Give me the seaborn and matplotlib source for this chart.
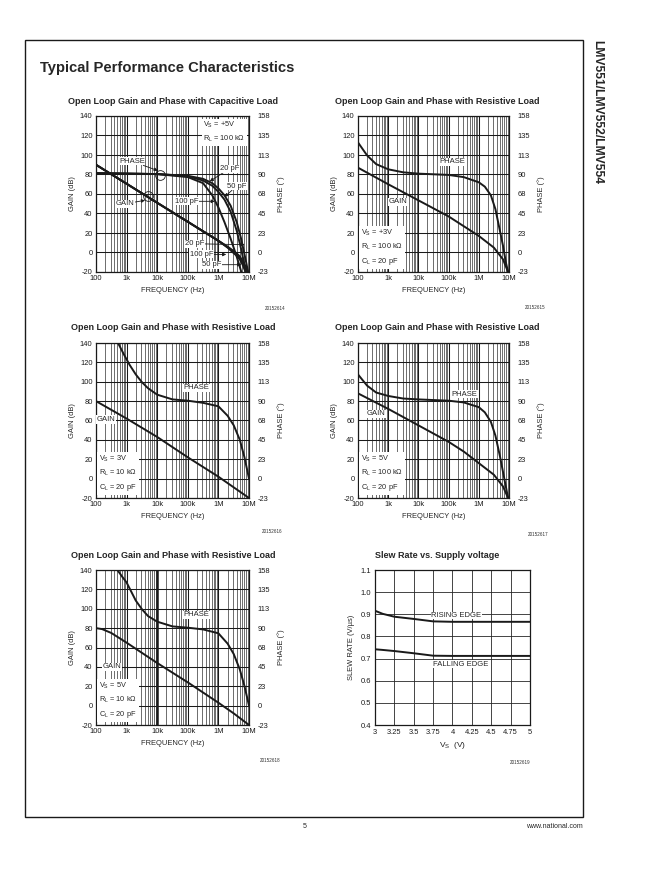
import matplotlib
matplotlib.use('Agg')
import matplotlib.pyplot as plt
from matplotlib.ticker import LogLocator, NullFormatter
import seaborn as sns

# ---- data ----
# Open loop gain / phase, capacitive load (VS=+5V, RL=100k)
cap_gain_f = [100, 1e3, 1e4, 1e5, 1e6, 2e6, 3e6, 4e6, 5e6, 6.3e6, 7.9e6, 9.3e6]
cap_gain_20p = [90, 70.5, 51, 31.5, 12, 6, 2, -1, -4, -9, -15, -20]
cap_gain_50p = [90, 70.5, 51, 31.5, 12, 5.5, 1, -2.5, -6, -11, -18, -24]
cap_gain_100p = [90, 70.5, 51, 31.5, 12, 5, 0, -3.5, -7, -13, -21, -27]
cap_phase_f = [100, 1e3, 1e4, 1e5, 3.16e5, 6.31e5, 1e6, 1.58e6, 2.51e6, 3.98e6, 5.62e6, 7.94e6, 9.33e6]
cap_phase_20p = [91.5, 91, 90.5, 88.5, 85, 80, 74, 66, 54, 35, 15, -10, -22.5]
cap_phase_50p = [91.5, 91, 90.5, 88, 83, 77, 70, 61, 47, 25, 3, -22.5, -35]
cap_phase_100p = [91.5, 91, 90.5, 87, 80, 66, 52, 35, 16, -5, -22.5, -40, -50]

# VS=+3V, RL=100k, CL=20pF
r3_100k_gain_f = [100, 1e3, 1e4, 1e5, 1e6, 3.16e6, 6.31e6, 9.33e6]
r3_100k_gain = [87, 70, 53.5, 37, 17, 5, -7, -20]
r3_100k_phase_f = [100, 200, 398, 1e3, 3.16e3, 1e4, 1e5, 3.16e5, 1e6, 1.58e6,
                   2.51e6, 3.55e6, 5.01e6, 6.31e6, 7.94e6, 9.33e6]
r3_100k_phase = [127, 112, 102, 96, 92.5, 91, 89.5, 87, 81, 76, 66, 50, 25, 8, -12, -22.5]

# VS=3V, RL=10k, CL=20pF
r3_10k_gain_f = [100, 1e3, 1e4, 1e5, 1e6, 1e7]
r3_10k_gain = [80, 62, 43, 22, 2, -20]
r3_10k_phase_f = [525, 794, 1259, 1995, 3162, 5012, 1e4, 3.16e4, 1e5, 3.16e5, 1e6,
                  2e6, 3.16e6, 5.01e6, 7.08e6, 1e7]
r3_10k_phase = [157.5, 145, 132, 121, 112, 105, 97.5, 92, 90.5, 88, 84, 73, 62, 45, 25, 0]

# VS=5V, RL=100k, CL=20pF
r5_100k_gain_f = [100, 1e3, 1e4, 1e5, 3.16e5, 1e6, 3.16e6, 6.31e6, 9.33e6]
r5_100k_gain = [88, 72, 55, 38, 28, 16, 4, -8, -20]
r5_100k_phase_f = [100, 200, 398, 1e3, 3.16e3, 1e4, 1e5, 3.16e5, 1e6, 1.58e6,
                   2.51e6, 3.55e6, 5.01e6, 6.31e6, 7.94e6, 9.33e6]
r5_100k_phase = [121, 108, 100, 96, 93, 92, 90.5, 88.5, 83, 77, 66, 50, 26, 8, -10, -22.5]

# VS=5V, RL=10k, CL=20pF
r5_10k_gain_f = [100, 158, 316, 1e3, 1e4, 1e5, 1e6, 3.16e6, 1e7]
r5_10k_gain = [80, 79, 75, 65, 44, 24, 3, -8, -20]
r5_10k_phase_f = [501, 708, 1e3, 1995, 3162, 5012, 1e4, 3.16e4, 1e5, 3.16e5, 1e6,
                  2e6, 3.16e6, 5.01e6, 7.08e6, 1e7]
r5_10k_phase = [157.5, 150, 143, 122, 112, 104, 97.5, 92, 90.5, 88.5, 84, 72, 60, 42, 23, 0]

# Slew rate vs supply voltage
vs = [3.0, 3.1, 3.25, 3.5, 3.75, 4.0, 4.5, 5.0]
rising = [0.916, 0.902, 0.889, 0.879, 0.868, 0.866, 0.866, 0.866]
falling = [0.742, 0.739, 0.734, 0.724, 0.713, 0.712, 0.712, 0.712]

freq_ticks = [1e2, 1e3, 1e4, 1e5, 1e6, 1e7]
freq_labels = ['100', '1k', '10k', '100k', '1M', '10M']
gain_ticks = [-20, 0, 20, 40, 60, 80, 100, 120, 140]
phase_ticks = [-22.5, 0, 22.5, 45, 67.5, 90, 112.5, 135, 157.5]
phase_labels = ['-23', '0', '23', '45', '68', '90', '113', '135', '158']

# ---- style ----
sns.set_theme(style='white')
plt.rcParams['font.family'] = ['Liberation Sans', 'DejaVu Sans']
plt.rcParams['mathtext.fontset'] = 'custom'
plt.rcParams['mathtext.rm'] = 'Liberation Sans'
plt.rcParams['mathtext.it'] = 'Liberation Sans:italic'
plt.rcParams['mathtext.bf'] = 'Liberation Sans:bold'

W, H = 651, 872
fig = plt.figure(figsize=(W / 100, H / 100), dpi=100)
fig.patch.set_facecolor('white')

TICK = 5.4
LAB = 5.4
LW = 1.4


def rect(l, t, r, b):
    return [l / W, 1 - b / H, (r - l) / W, (b - t) / H]


def ftext(x, y, s, **kw):
    fig.text(x / W, 1 - y / H, s, **kw)


def bode_axes(r, title_x, title_y, num_x, num_y, num):
    ax = fig.add_axes(rect(*r))
    ax.set_xscale('log')
    ax.set_xlim(100, 1e7)
    ax.set_ylim(-20, 140)
    ax.set_xticks(freq_ticks)
    ax.set_xticklabels(freq_labels, fontsize=TICK)
    ax.xaxis.set_minor_locator(LogLocator(base=10, subs=range(2, 10), numticks=100))
    ax.xaxis.set_minor_formatter(NullFormatter())
    ax.set_yticks(gain_ticks)
    ax.set_yticklabels([str(v) for v in gain_ticks], fontsize=TICK)
    ax.tick_params(which='both', length=0, pad=2.5, colors='k')
    ax.grid(which='major', color='k', lw=0.75)
    ax.grid(which='minor', axis='x', color='0.2', lw=0.5)
    for s in ax.spines.values():
        s.set_color('k')
        s.set_linewidth(0.9)
    ax.set_xlabel('FREQUENCY (Hz)', fontsize=LAB, labelpad=3)
    ax.set_ylabel('GAIN (dB)', fontsize=LAB, labelpad=3)
    ax2 = ax.twinx()
    ax2.set_ylim(-22.5, 157.5)
    ax2.set_yticks(phase_ticks)
    ax2.set_yticklabels(phase_labels, fontsize=TICK)
    ax2.tick_params(length=0, pad=6, colors='k')
    ax2.grid(False)
    ax2.set_ylabel('PHASE (°)', fontsize=LAB, labelpad=5)
    for s in ax2.spines.values():
        s.set_visible(False)
    ftext(title_x, title_y, title_txt[num], ha='center', va='center',
          fontsize=6.5, fontweight='bold')
    ftext(num_x, num_y, fig_nums[num], ha='right', va='center', fontsize=3.3, color='0.2')
    return ax, ax2


def line(ax, x, y):
    sns.lineplot(x=x, y=y, ax=ax, color='k', lw=LW, sort=False, estimator=None)


def label(ax, x, y, s, size=5.5):
    ax.text(x, y, s, fontsize=size, ha='center', va='center', zorder=5,
            bbox=dict(facecolor='white', edgecolor='none', pad=0.4))


def arrow(ax, s, xy, xytext, size=5.5):
    ax.annotate(s, xy=xy, xytext=xytext, fontsize=size, ha='center', va='center', zorder=5,
                bbox=dict(facecolor='white', edgecolor='none', pad=0.4),
                arrowprops=dict(arrowstyle='-|>', color='k', lw=0.6, mutation_scale=5,
                                shrinkA=0, shrinkB=0))


def cond_box(ax, x, y, s, va):
    ax.text(x, y, s, transform=ax.transAxes, fontsize=5.3, ha='left', va=va,
            linespacing=1.6, zorder=6,
            bbox=dict(facecolor='white', edgecolor='none', pad=1.5))


title_txt = ['Open Loop Gain and Phase with Capacitive Load'] + \
            ['Open Loop Gain and Phase with Resistive Load'] * 4
fig_nums = ['20152614', '20152615', '20152616', '20152617', '20152618']

# page frame, title, side text, footer
fig.patches.append(plt.Rectangle((25 / W, 1 - 817 / H), 558 / W, 777 / H,
                                 transform=fig.transFigure, fill=False,
                                 edgecolor='k', lw=1.0))
ftext(40, 68, 'Typical Performance Characteristics', ha='left', va='center',
      fontsize=10.6, fontweight='bold')
ftext(597, 40, 'LMV551/LMV552/LMV554', ha='center', va='top', rotation=-90,
      fontsize=8.7, fontweight='bold')
ftext(305, 826, '5', ha='center', va='center', fontsize=5)
ftext(583, 826, 'www.national.com', ha='right', va='center', fontsize=5)

# ---- panel 1: capacitive load ----
ax, ax2 = bode_axes((96, 116, 249, 272), 173, 101, 285, 309, 0)
for g in (cap_gain_20p, cap_gain_50p, cap_gain_100p):
    line(ax, cap_gain_f, g)
for p in (cap_phase_20p, cap_phase_50p, cap_phase_100p):
    line(ax2, cap_phase_f, p)
arrow(ax, '20 pF', (5.2e5, 73), (2.34e6, 86))
arrow(ax, '50 pF', (1.6e6, 57), (3.9e6, 68))
arrow(ax, '100 pF', (7.6e5, 52.5), (9.1e4, 52.5))
arrow(ax, 'PHASE', (1.05e4, 84), (1.5e3, 93.5))
arrow(ax, 'GAIN', (4e3, 53.5), (890, 50))
arrow(ax, '20 pF', (7.2e6, 8), (1.7e5, 9))
arrow(ax, '100 pF', (1.8e6, -2), (2.8e5, -2))
arrow(ax, '50 pF', (5.6e6, -12.5), (5.9e5, -12.5))
ax.plot([1.2e4, 5.1e3], [79, 57.6], ls='none', marker='o', mfc='none', mec='k',
        ms=7, mew=0.6, zorder=6)
ax.text(0.7, 0.975, 'V$_\\mathregular{S}$ = +5V\nR$_\\mathregular{L}$ = 100 k\u03a9',
        transform=ax.transAxes, fontsize=5.3, ha='left', va='top', linespacing=1.6,
        zorder=6, bbox=dict(facecolor='white', edgecolor='none', pad=1.0))

# ---- panel 2: VS=+3V, RL=100k ----
ax, ax2 = bode_axes((358, 116, 509, 272), 437, 101, 545, 307, 1)
line(ax, r3_100k_gain_f, r3_100k_gain)
line(ax2, r3_100k_phase_f, r3_100k_phase)
label(ax, 1.3e5, 93, 'PHASE')
label(ax, 2.1e3, 52, 'GAIN')
cond_box(ax, 0.02, 0.03, 'V$_\\mathregular{S}$ = +3V\nR$_\\mathregular{L}$ = 100 k\u03a9\n'
         'C$_\\mathregular{L}$ = 20 pF', 'bottom')

# ---- panel 3: VS=3V, RL=10k ----
ax, ax2 = bode_axes((96, 343, 249, 498), 173, 328, 282, 531, 2)
line(ax, r3_10k_gain_f, r3_10k_gain)
line(ax2, r3_10k_phase_f, r3_10k_phase)
label(ax, 1.9e5, 94, 'PHASE')
label(ax, 210, 61, 'GAIN')
cond_box(ax, 0.02, 0.03, 'V$_\\mathregular{S}$ = 3V\nR$_\\mathregular{L}$ = 10 k\u03a9\n'
         'C$_\\mathregular{L}$ = 20 pF', 'bottom')

# ---- panel 4: VS=5V, RL=100k ----
ax, ax2 = bode_axes((358, 343, 509, 498), 437, 328, 548, 535, 3)
line(ax, r5_100k_gain_f, r5_100k_gain)
line(ax2, r5_100k_phase_f, r5_100k_phase)
label(ax, 3.4e5, 87, 'PHASE')
label(ax, 400, 67, 'GAIN')
cond_box(ax, 0.02, 0.03, 'V$_\\mathregular{S}$ = 5V\nR$_\\mathregular{L}$ = 100 k\u03a9\n'
         'C$_\\mathregular{L}$ = 20 pF', 'bottom')

# ---- panel 5: VS=5V, RL=10k ----
ax, ax2 = bode_axes((96, 570, 249, 725), 173, 555, 280, 760, 4)
ax.axvline(1e4, color='k', lw=1.8)
line(ax, r5_10k_gain_f, r5_10k_gain)
line(ax2, r5_10k_phase_f, r5_10k_phase)
label(ax, 1.9e5, 94, 'PHASE')
label(ax, 330, 40, 'GAIN')
cond_box(ax, 0.02, 0.03, 'V$_\\mathregular{S}$ = 5V\nR$_\\mathregular{L}$ = 10 k\u03a9\n'
         'C$_\\mathregular{L}$ = 20 pF', 'bottom')

# ---- panel 6: slew rate ----
ax = fig.add_axes(rect(375, 570, 530, 725))
sns.lineplot(x=vs, y=rising, ax=ax, color='k', lw=LW)
sns.lineplot(x=vs, y=falling, ax=ax, color='k', lw=LW)
ax.set_xlim(3, 5)
ax.set_ylim(0.4, 1.1)
sr_x = [3, 3.25, 3.5, 3.75, 4, 4.25, 4.5, 4.75, 5]
sr_y = [0.4, 0.5, 0.6, 0.7, 0.8, 0.9, 1.0, 1.1]
ax.set_xticks(sr_x)
ax.set_xticklabels(['3', '3.25', '3.5', '3.75', '4', '4.25', '4.5', '4.75', '5'], fontsize=TICK)
ax.set_yticks(sr_y)
ax.set_yticklabels(['%.1f' % v for v in sr_y], fontsize=TICK)
ax.tick_params(length=0, pad=3, colors='k')
ax.grid(True, color='0.15', lw=0.6)
for s in ax.spines.values():
    s.set_color('k')
    s.set_linewidth(0.9)
ax.set_xlabel('V$_\\mathregular{S}$  (V)', fontsize=6, labelpad=3)
ax.set_ylabel('SLEW RATE (V/\u00b5s)', fontsize=LAB, labelpad=4)
ax.text(4.05, 0.895, 'RISING EDGE', fontsize=5.5, ha='center', va='center',
        bbox=dict(facecolor='white', edgecolor='none', pad=0.3))
ax.text(4.1, 0.675, 'FALLING EDGE', fontsize=5.5, ha='center', va='center',
        bbox=dict(facecolor='white', edgecolor='none', pad=0.3))
ftext(437, 555, 'Slew Rate vs. Supply voltage', ha='center', va='center',
      fontsize=6.5, fontweight='bold')
ftext(530, 762, '20152619', ha='right', va='center', fontsize=3.3, color='0.2')

fig.savefig('out.png', dpi=100, facecolor='white')
